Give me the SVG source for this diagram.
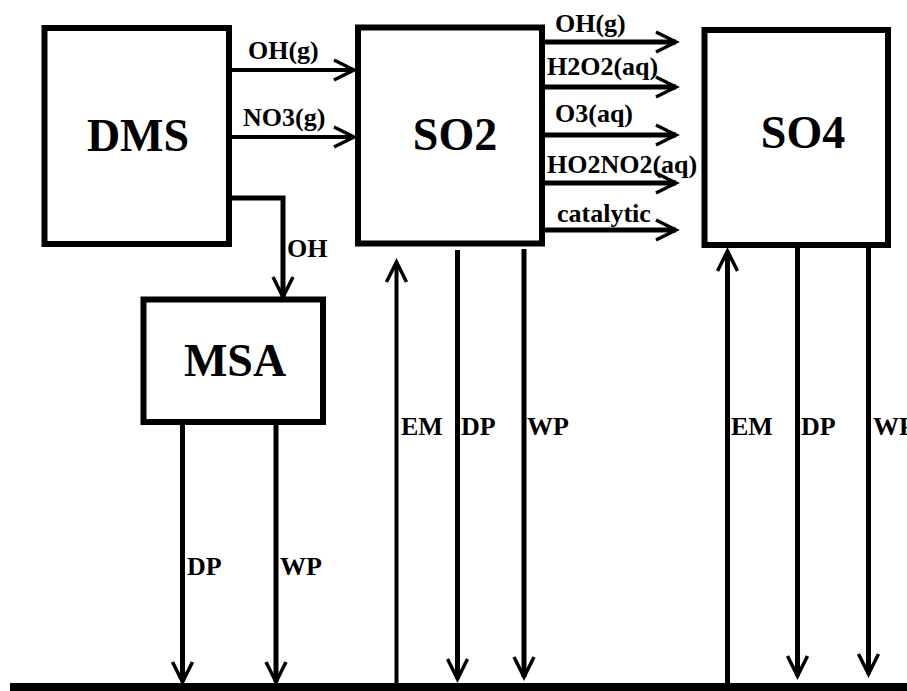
<svg xmlns="http://www.w3.org/2000/svg" width="907" height="691" viewBox="0 0 907 691">
<style>
.box{fill:#fff;stroke:#000;stroke-width:6}
.big{font-family:"Liberation Serif","Times New Roman",serif;font-weight:bold;font-size:46px;fill:#000;text-anchor:middle}
.lbl{font-family:"Liberation Serif","Times New Roman",serif;font-weight:bold;font-size:26px;fill:#000}
.c{fill:none;stroke:#000;stroke-width:5}
.t{stroke-width:4}
</style>
<defs>
<marker id="ah" markerUnits="userSpaceOnUse" markerWidth="30" markerHeight="30" viewBox="-25 -15 30 30" refX="0" refY="0" orient="auto" overflow="visible">
<path d="M-20,-10 L0,0 L-20,10" fill="none" stroke="#000" stroke-width="3.5" stroke-linejoin="miter"/>
</marker>
</defs>
<rect width="907" height="691" fill="#fff"/>
<g id="connectors">
<line class="c t" x1="232" y1="70" x2="354" y2="70" marker-end="url(#ah)"/>
<line class="c t" x1="232" y1="137" x2="354" y2="137" marker-end="url(#ah)"/>
<polyline class="c" points="232,198 283,198 283,297" marker-end="url(#ah)"/>
<line class="c" x1="545" y1="42" x2="676" y2="42" marker-end="url(#ah)"/>
<line class="c" x1="545" y1="87" x2="676" y2="87" marker-end="url(#ah)"/>
<line class="c" x1="545" y1="135" x2="676" y2="135" marker-end="url(#ah)"/>
<line class="c" x1="545" y1="183" x2="676" y2="183" marker-end="url(#ah)"/>
<line class="c" x1="545" y1="230" x2="676" y2="230" marker-end="url(#ah)"/>
<line class="c" x1="182.5" y1="424" x2="182.5" y2="682" marker-end="url(#ah)"/>
<line class="c" x1="276" y1="424" x2="276" y2="682" marker-end="url(#ah)"/>
<line class="c t" x1="396.5" y1="684" x2="396.5" y2="262" marker-end="url(#ah)"/>
<line class="c" x1="457.5" y1="250" x2="457.5" y2="679" marker-end="url(#ah)"/>
<line class="c" x1="524" y1="249" x2="524" y2="677" marker-end="url(#ah)"/>
<line class="c" x1="727.5" y1="684" x2="727.5" y2="251" marker-end="url(#ah)"/>
<line class="c" x1="797.5" y1="247" x2="797.5" y2="676" marker-end="url(#ah)"/>
<line class="c" x1="868.5" y1="247" x2="868.5" y2="674" marker-end="url(#ah)"/>
<text class="lbl" x="248" y="59">OH(g)</text>
<text class="lbl" x="243" y="126">NO3(g)</text>
<text class="lbl" x="287" y="257">OH</text>
<text class="lbl" x="555" y="32">OH(g)</text>
<text class="lbl" x="547" y="75">H2O2(aq)</text>
<text class="lbl" x="555" y="122">O3(aq)</text>
<text class="lbl" x="547" y="173">HO2NO2(aq)</text>
<text class="lbl" x="557" y="222">catalytic</text>
<text class="lbl" x="187" y="575">DP</text>
<text class="lbl" x="280" y="575">WP</text>
<text class="lbl" x="401" y="435">EM</text>
<text class="lbl" x="461" y="435">DP</text>
<text class="lbl" x="527" y="435">WP</text>
<text class="lbl" x="731" y="435">EM</text>
<text class="lbl" x="801" y="435">DP</text>
<text class="lbl" x="873" y="435">WP</text>
</g>
<g id="DMS">
<rect class="box" x="44.5" y="28" width="184.5" height="216"/>
<text class="big" x="138" y="151">DMS</text>
</g>
<g id="SO2">
<rect class="box" x="358" y="27.5" width="184" height="216"/>
<text class="big" x="455" y="150">SO2</text>
</g>
<g id="SO4">
<rect class="box" x="704.5" y="30" width="183.5" height="215"/>
<text class="big" x="803" y="148">SO4</text>
</g>
<g id="MSA">
<rect class="box" x="143.5" y="299.5" width="179.5" height="122.5"/>
<text class="big" x="235" y="376">MSA</text>
</g>
<g id="ground">
<rect x="10" y="683" width="897" height="8" fill="#000"/>
</g>
</svg>
